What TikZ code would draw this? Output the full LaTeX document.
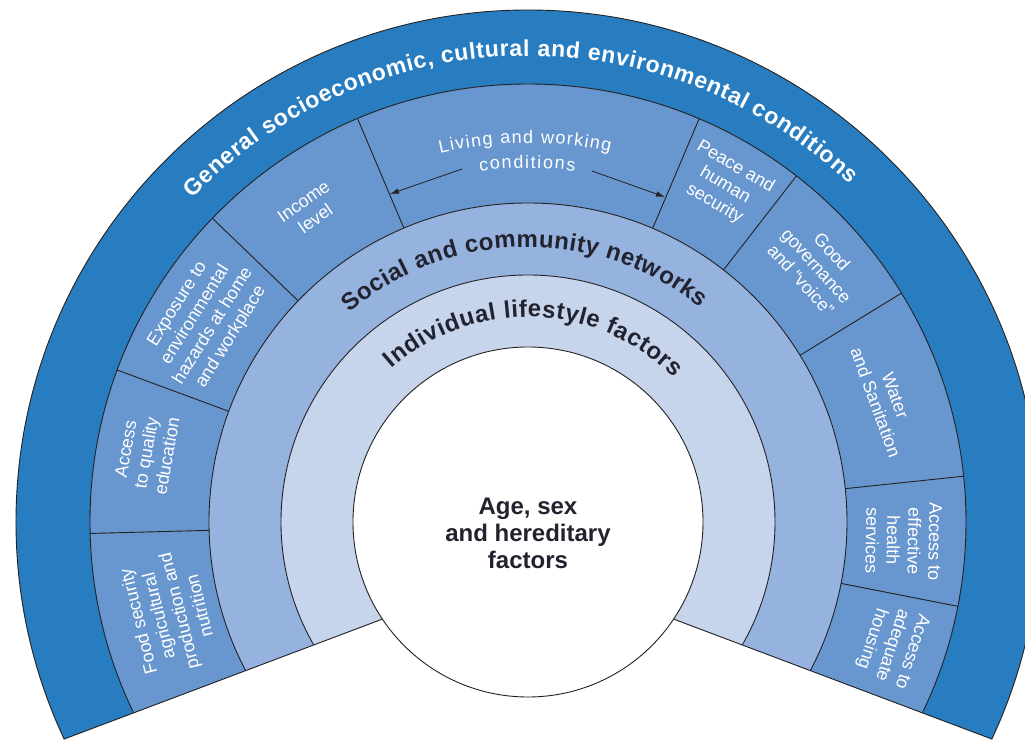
\documentclass[tikz,border=0pt]{standalone}
\usepackage{fontspec}
\setmainfont{Liberation Sans}
\usetikzlibrary{decorations.text,arrows.meta}
\definecolor{outerc}{HTML}{287DC0}
\definecolor{segc}{HTML}{6896CE}
\definecolor{socc}{HTML}{96B2DE}
\definecolor{indc}{HTML}{C6D4EC}
\definecolor{ink}{HTML}{23232F}
\definecolor{edge}{HTML}{222222}
\begin{document}
\begin{tikzpicture}[x=1pt,y=1pt,
  ring/.style={draw=edge,line width=0.9pt},
  segtext/.style={text=white,align=center,font=\fontsize{18}{21}\selectfont,inner sep=0pt},
  bigtext/.style={text=ink,align=center,font=\bfseries\fontsize{24}{27}\selectfont,inner sep=0pt},
  arr/.style={draw=edge,line width=0.8pt,-{Latex[length=9pt,width=5.5pt]}}
]
\useasboundingbox (-528,-219) rectangle (497,522);
% rings, clipped by the V-shaped cut
\begin{scope}
  \clip (0,-42.2) -- (-700,-306.1) -- (-700,700) -- (700,700) -- (700,-306.1) -- cycle;
  \fill[outerc] (0,0) circle[radius=512];
  \fill[segc] (0,0) circle[radius=438];
  \fill[socc] (0,0) circle[radius=319];
  \fill[indc] (0,0) circle[radius=247];
  \foreach \r in {512,438,319,247} \draw[ring] (0,0) circle[radius=\r];
  \foreach \a in {181.5,159.7,136.1,112.9,67,52.2,31.5,6,-11.1}
    \draw[ring] (\a:319) -- (\a:438);
\end{scope}
\begin{scope}
  \clip (0,0) circle[radius=512.5];
  \draw[ring] (0,-42.2) -- (-700,-306.1);
  \draw[ring] (0,-42.2) -- (700,-306.1);
\end{scope}
\draw[ring,fill=white] (0,0) circle[radius=175];
% curved titles
\path[decorate,decoration={text along path,text align={fit to path},
  text={|\color{white}\bfseries\fontsize{23}{23}\selectfont|General socioeconomic, cultural and environmental conditions}}]
  (136:466) arc[start angle=136,end angle=46.5,radius=466];
\path[decorate,decoration={text along path,text align={fit to path},
  text={|\color{ink}\bfseries\fontsize{24}{24}\selectfont|Social and community networks}}]
  (130.5:275) arc[start angle=130.5,end angle=51.2,radius=275];
\path[decorate,decoration={text along path,text align={fit to path},
  text={|\color{ink}\bfseries\fontsize{24}{24}\selectfont|Individual lifestyle factors}}]
  (131.6:205) arc[start angle=131.6,end angle=44.7,radius=205];
\path[decorate,decoration={text along path,text align={fit to path},
  text={|\color{white}\fontsize{18}{18}\selectfont|Living and working}}]
  (103.4:379) arc[start angle=103.4,end angle=77.5,radius=379];
\path[decorate,decoration={text along path,text align={fit to path},
  text={|\color{white}\fontsize{18}{18}\selectfont|conditions}}]
  (97.8:354) arc[start angle=97.8,end angle=82.4,radius=354];
% arrows of living and working conditions
\coordinate (la1) at (-66,353);
\coordinate (la2) at (-138,328);
\coordinate (ra1) at (64,351);
\coordinate (ra2) at (137,325);
\draw[arr] (la1) -- (la2);
\draw[arr] (ra1) -- (ra2);
% segment labels
\node[segtext,rotate=35] (income) at (125:381) {Income\\level};
\node[segtext,rotate=58] (expo) at (148.1:381) {Exposure to\\environmental\\hazards at home\\and workplace};
\node[segtext,rotate=80] (edu) at (169.7:388) {Access\\to quality\\education};
\node[segtext,rotate=104] (food) at (194.3:371) {Food security\\agricultural\\production and\\nutrition};
\node[segtext,rotate=-30] (peace) at (59.65:390) {Peace and\\human\\security};
\node[segtext,rotate=-48] (gov) at (41.6:386) {Good\\governance\\and “voice”};
\node[segtext,rotate=-70] (water) at (19:378) {Water\\and Sanitation};
\node[segtext,rotate=-91] (health) at (-2.85:376) {Access to\\effective\\health\\services};
\node[segtext,rotate=-108] (housing) at (-18.7:384) {Access to\\adequate\\housing};
% core
\node[bigtext] (core) at (0,-11) {Age, sex\\and hereditary\\factors};
\end{tikzpicture}
\end{document}
